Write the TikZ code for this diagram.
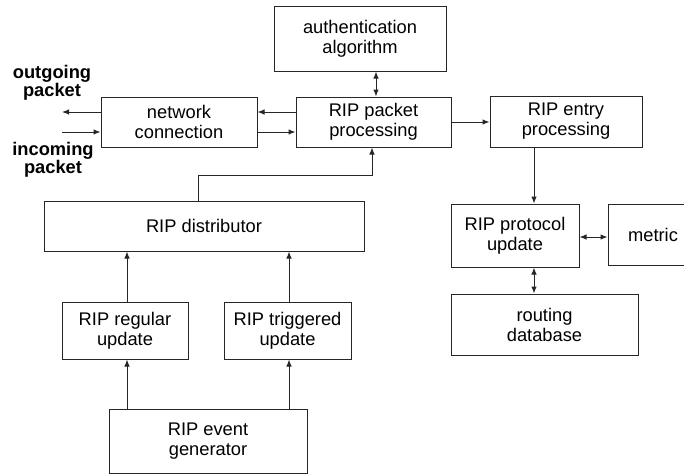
\documentclass[tikz,border=0pt]{standalone}
\usepackage{fontspec}
\setmainfont{Liberation Sans}
\usetikzlibrary{arrows.meta}
\tikzset{
  box/.style={draw=black!85, line width=1pt, inner sep=0pt, align=center,
    font=\fontsize{18.3}{20}\selectfont},
  lbl/.style={inner sep=0pt, align=center,
    font=\fontsize{18.3}{17}\selectfont\bfseries},
  link/.style={draw=black!85, line width=1pt},
  arr/.style={link, -{Latex[length=7pt,width=5.5pt]}},
  darr/.style={link, {Latex[length=7pt,width=5.5pt]}-{Latex[length=7pt,width=5.5pt]}},
}
\begin{document}
\begin{tikzpicture}[x=1pt,y=-1pt]
\useasboundingbox (0,0) rectangle (684,475);
\clip (0,0) rectangle (684,475);

% boxes
\node[box, minimum width=172, minimum height=65] (auth) at (360,38.5) {authentication\\algorithm};
\node[box, minimum width=155, minimum height=50] (pkt) at (373.5,122) {RIP packet\\processing};
\node[box, minimum width=156, minimum height=50] (net) at (179,122) {network\\connection};
\node[box, minimum width=152, minimum height=51] (entry) at (566,121.5) {RIP entry\\processing};
\node[box, minimum width=128, minimum height=63] (proto) at (515,235.5) {RIP protocol\\update};
\node[box, minimum width=90, minimum height=61] (metric) at (653,234.5) {metric};
\node[box, minimum width=187, minimum height=61] (route) at (544.5,324.5) {routing\\database};
\node[box, minimum width=320, minimum height=50] (dist) at (204,226) {RIP distributor};
\node[box, minimum width=126, minimum height=57] (reg) at (125,330.5) {RIP regular\\update};
\node[box, minimum width=127, minimum height=57] (trig) at (287.5,330.5) {RIP triggered\\update};
\node[box, minimum width=198, minimum height=64] (event) at (208,441) {RIP event\\generator};

% side labels
\node[lbl] (outlbl) at (52,83) {outgoing\\packet};
\node[lbl] (inlbl) at (53,160) {incoming\\packet};

% anchor coordinates for the connectors
\coordinate (outL) at (62,112);
\coordinate (inL) at (62,132);
\coordinate (ax) at (376,84);
\coordinate (px) at (534,180);
\coordinate (my) at (594,237);
\coordinate (dx) at (198,175);
\coordinate (bend) at (372,175);
\coordinate (rx) at (127,380);
\coordinate (tx) at (289,380);

% connectors
\draw[arr] (net.west |- outL) -- (outL);
\draw[arr] (inL) -- (net.west |- inL);
\draw[arr] (pkt.west |- outL) -- (net.east |- outL);
\draw[arr] (net.east |- inL) -- (pkt.west |- inL);
\draw[darr] (auth.south -| ax) -- (pkt.north -| ax);
\draw[arr] (pkt.east) -- (entry.west |- pkt.east);
\draw[arr] (entry.south -| px) -- (proto.north -| px);
\draw[darr] (proto.east |- my) -- (metric.west |- my);
\draw[darr] (proto.south -| px) -- (route.north -| px);
\draw[arr] (dist.north -| dx) -- (dx) -- (bend) -- (pkt.south -| bend);
\draw[arr] (reg.north -| rx) -- (dist.south -| rx);
\draw[arr] (trig.north -| tx) -- (dist.south -| tx);
\draw[arr] (event.north -| rx) -- (reg.south -| rx);
\draw[arr] (event.north -| tx) -- (trig.south -| tx);
\end{tikzpicture}
\end{document}
